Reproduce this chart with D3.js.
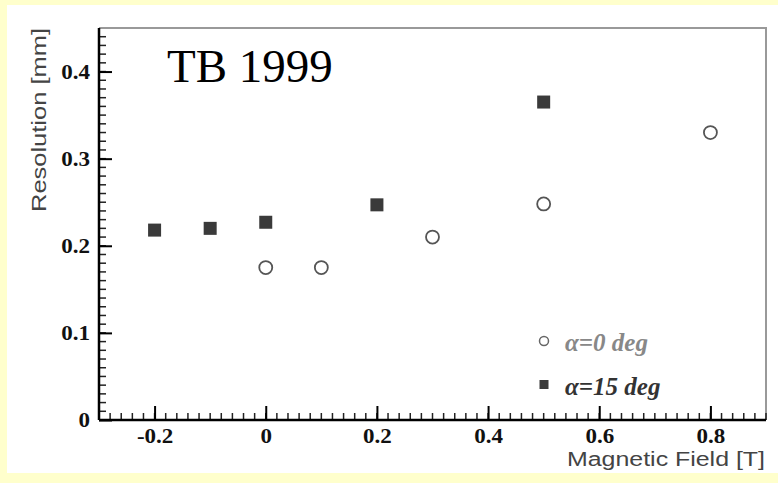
<!DOCTYPE html>
<html>
<head>
<meta charset="utf-8">
<script src="https://cdn.jsdelivr.net/npm/d3@7"></script>
<style>
  body { margin: 0; background: #ffffcc; }
  svg { display: block; }
</style>
</head>
<body>
<svg id="chart" width="778" height="483"></svg>
<script>
// data
var fieldZero = [0, 0.1, 0.3, 0.5, 0.8];           // alpha = 0 deg
var resZero   = [0.175, 0.175, 0.21, 0.248, 0.33];
var fieldFifteen = [-0.2, -0.1, 0, 0.2, 0.5];      // alpha = 15 deg
var resFifteen   = [0.218, 0.220, 0.227, 0.247, 0.365];
var xTicks = [-0.2, 0, 0.2, 0.4, 0.6, 0.8];
var yTicks = [0, 0.1, 0.2, 0.3, 0.4];

var svg = d3.select("#chart");

// white panel on the yellow page
svg.append("rect").attr("x", 7).attr("y", 5).attr("width", 771).attr("height", 468).attr("fill", "#ffffff");

var plotLeft = 99, plotRight = 766, plotTop = 28, plotBottom = 420;
var x = d3.scaleLinear().domain([-0.3, 0.9]).range([plotLeft, plotRight]);
var y = d3.scaleLinear().domain([0, 0.45]).range([plotBottom, plotTop]);

// frame (top and right grey)
svg.append("path")
  .attr("d", "M" + plotLeft + "," + plotTop + "H" + plotRight + "V" + plotBottom)
  .attr("fill", "none").attr("stroke", "#999").attr("stroke-width", 2);

// minor ticks
var xMinor = d3.range(-0.28, 0.9, 0.02).map(function(v) { return Math.round(v * 100) / 100; });
var yMinor = d3.range(0.01, 0.45, 0.01).map(function(v) { return Math.round(v * 100) / 100; });

var tickColor = "#222";
svg.append("g").selectAll("line").data(xMinor).enter().append("line")
  .attr("x1", function(d) { return x(d); }).attr("x2", function(d) { return x(d); })
  .attr("y1", plotBottom).attr("y2", plotBottom - 7)
  .attr("stroke", tickColor).attr("stroke-width", 1.5);
svg.append("g").selectAll("line").data(yMinor).enter().append("line")
  .attr("y1", function(d) { return y(d); }).attr("y2", function(d) { return y(d); })
  .attr("x1", plotLeft).attr("x2", plotLeft + 7)
  .attr("stroke", tickColor).attr("stroke-width", 1.5);

var fmt = function(d) { return String(d); };

// the original labels look a bit wide, so stretch them a little
function widen(sel) {
  sel.each(function() {
    var w = this.getComputedTextLength();
    d3.select(this).attr("textLength", w * 1.15).attr("lengthAdjust", "spacingAndGlyphs");
  });
}

// axes with major ticks pointing inward
var xAxis = svg.append("g").attr("transform", "translate(0," + plotBottom + ")")
  .call(d3.axisTop(x).tickValues(xTicks).tickSize(14).tickFormat(fmt));
xAxis.select(".domain").attr("stroke", "#000").attr("stroke-width", 2.5).attr("d", "M" + plotLeft + ",0H" + plotRight);
xAxis.selectAll(".tick line").attr("stroke", "#000").attr("stroke-width", 2);
xAxis.selectAll(".tick text")
  .attr("y", 23).attr("dy", null)
  .attr("font-family", "'Liberation Serif', 'Times New Roman', serif")
  .attr("font-weight", "bold").attr("font-size", 20).attr("fill", "#111")
  .call(widen);

var yAxis = svg.append("g").attr("transform", "translate(" + plotLeft + ",0)")
  .call(d3.axisRight(y).tickValues(yTicks).tickSize(13).tickFormat(fmt));
yAxis.select(".domain").attr("stroke", "#000").attr("stroke-width", 2.5).attr("d", "M0," + plotTop + "V" + plotBottom);
yAxis.selectAll(".tick line").attr("stroke", "#000").attr("stroke-width", 2);
yAxis.selectAll(".tick text")
  .attr("x", -9).attr("text-anchor", "end").attr("dy", "0.34em")
  .attr("font-family", "'Liberation Serif', 'Times New Roman', serif")
  .attr("font-weight", "bold").attr("font-size", 20).attr("fill", "#111")
  .call(widen);

// axis titles
svg.append("text")
  .attr("transform", "translate(46,120) rotate(-90)")
  .attr("text-anchor", "middle")
  .attr("font-family", "'Liberation Sans', Arial, sans-serif").attr("font-size", 20)
  .attr("fill", "#444")
  .attr("textLength", 184).attr("lengthAdjust", "spacingAndGlyphs")
  .text("Resolution [mm]");
svg.append("text")
  .attr("x", 765).attr("y", 466).attr("text-anchor", "end")
  .attr("font-family", "'Liberation Sans', Arial, sans-serif").attr("font-size", 20)
  .attr("fill", "#444")
  .attr("textLength", 198).attr("lengthAdjust", "spacingAndGlyphs")
  .text("Magnetic Field [T]");

// big label
svg.append("text")
  .attr("x", 167).attr("y", 82)
  .attr("font-family", "'Liberation Serif', 'Times New Roman', serif").attr("font-size", 47)
  .attr("fill", "#000")
  .text("TB 1999");

// data points
svg.append("g").selectAll("circle").data(fieldZero).enter().append("circle")
  .attr("cx", function(d) { return x(d); })
  .attr("cy", function(d, i) { return y(resZero[i]); })
  .attr("r", 6.5)
  .attr("fill", "none").attr("stroke", "#555").attr("stroke-width", 1.8);

var sq = 13;
svg.append("g").selectAll("rect").data(fieldFifteen).enter().append("rect")
  .attr("x", function(d) { return x(d) - sq / 2; })
  .attr("y", function(d, i) { return y(resFifteen[i]) - sq / 2; })
  .attr("width", sq).attr("height", sq)
  .attr("fill", "#3a3a3a");

// legend
var legend = svg.append("g");
legend.append("circle").attr("cx", 544).attr("cy", 341).attr("r", 4.5)
  .attr("fill", "none").attr("stroke", "#666").attr("stroke-width", 1.5);
legend.append("rect").attr("x", 539.5).attr("y", 380).attr("width", 9).attr("height", 9)
  .attr("fill", "#3a3a3a");
legend.append("text").attr("x", 565).attr("y", 351)
  .attr("font-family", "'Liberation Serif', 'Times New Roman', serif")
  .attr("font-style", "italic").attr("font-weight", "bold").attr("font-size", 25)
  .attr("fill", "#888")
  .text("α=0 deg");
legend.append("text").attr("x", 565).attr("y", 395)
  .attr("font-family", "'Liberation Serif', 'Times New Roman', serif")
  .attr("font-style", "italic").attr("font-weight", "bold").attr("font-size", 25)
  .attr("fill", "#333")
  .text("α=15 deg");
</script>
</body>
</html>
